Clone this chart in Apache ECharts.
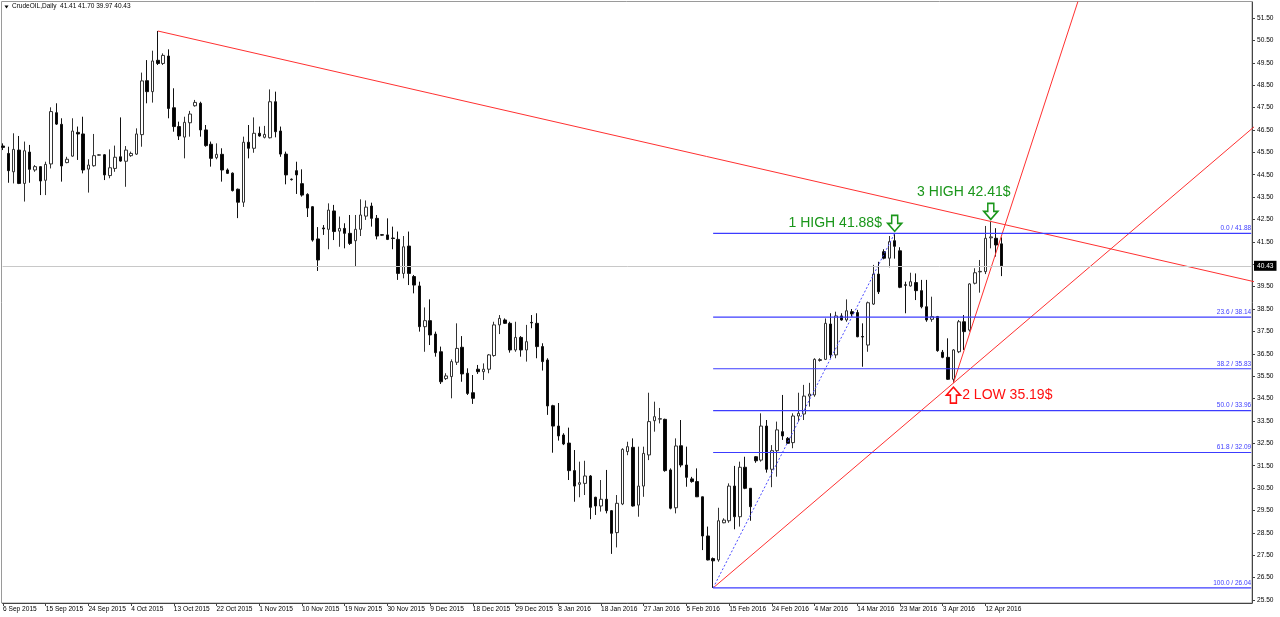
<!DOCTYPE html>
<html><head><meta charset="utf-8">
<script src="https://cdn.jsdelivr.net/npm/echarts@6/dist/echarts.min.js"></script>
<style>html,body{margin:0;padding:0;background:#fff}#c{width:1280px;height:617px}</style>
</head><body><div id="c"></div>
<script>
const dates = ['6 Sep 2015','7 Sep 2015','8 Sep 2015','9 Sep 2015','10 Sep 2015','11 Sep 2015','13 Sep 2015','14 Sep 2015','15 Sep 2015','16 Sep 2015','17 Sep 2015','18 Sep 2015','20 Sep 2015','21 Sep 2015','22 Sep 2015','23 Sep 2015','24 Sep 2015','25 Sep 2015','27 Sep 2015','28 Sep 2015','29 Sep 2015','30 Sep 2015',
'1 Oct 2015','2 Oct 2015','4 Oct 2015','5 Oct 2015','6 Oct 2015','7 Oct 2015','8 Oct 2015','9 Oct 2015','11 Oct 2015','12 Oct 2015','13 Oct 2015','14 Oct 2015','15 Oct 2015','16 Oct 2015','18 Oct 2015','19 Oct 2015','20 Oct 2015','21 Oct 2015','22 Oct 2015','23 Oct 2015','25 Oct 2015','26 Oct 2015','27 Oct 2015','28 Oct 2015','29 Oct 2015','30 Oct 2015',
'1 Nov 2015','2 Nov 2015','3 Nov 2015','4 Nov 2015','5 Nov 2015','6 Nov 2015','8 Nov 2015','9 Nov 2015','10 Nov 2015','11 Nov 2015','12 Nov 2015','13 Nov 2015','15 Nov 2015','16 Nov 2015','17 Nov 2015','18 Nov 2015','19 Nov 2015','20 Nov 2015','22 Nov 2015','23 Nov 2015','24 Nov 2015','25 Nov 2015','27 Nov 2015','29 Nov 2015','30 Nov 2015',
'1 Dec 2015','2 Dec 2015','3 Dec 2015','4 Dec 2015','6 Dec 2015','7 Dec 2015','8 Dec 2015','9 Dec 2015','10 Dec 2015','11 Dec 2015','13 Dec 2015','14 Dec 2015','15 Dec 2015','16 Dec 2015','17 Dec 2015','18 Dec 2015','20 Dec 2015','21 Dec 2015','22 Dec 2015','23 Dec 2015','24 Dec 2015','27 Dec 2015','28 Dec 2015','29 Dec 2015','30 Dec 2015','31 Dec 2015',
'3 Jan 2016','4 Jan 2016','5 Jan 2016','6 Jan 2016','7 Jan 2016','8 Jan 2016','10 Jan 2016','11 Jan 2016','12 Jan 2016','13 Jan 2016','14 Jan 2016','15 Jan 2016','17 Jan 2016','18 Jan 2016','19 Jan 2016','20 Jan 2016','21 Jan 2016','22 Jan 2016','24 Jan 2016','25 Jan 2016','26 Jan 2016','27 Jan 2016','28 Jan 2016','29 Jan 2016','31 Jan 2016',
'1 Feb 2016','2 Feb 2016','3 Feb 2016','4 Feb 2016','5 Feb 2016','7 Feb 2016','8 Feb 2016','9 Feb 2016','10 Feb 2016','11 Feb 2016','12 Feb 2016','14 Feb 2016','15 Feb 2016','16 Feb 2016','17 Feb 2016','18 Feb 2016','19 Feb 2016','21 Feb 2016','22 Feb 2016','23 Feb 2016','24 Feb 2016','25 Feb 2016','26 Feb 2016','28 Feb 2016','29 Feb 2016',
'1 Mar 2016','2 Mar 2016','3 Mar 2016','4 Mar 2016','6 Mar 2016','7 Mar 2016','8 Mar 2016','9 Mar 2016','10 Mar 2016','11 Mar 2016','13 Mar 2016','14 Mar 2016','15 Mar 2016','16 Mar 2016','17 Mar 2016','18 Mar 2016','20 Mar 2016','21 Mar 2016','22 Mar 2016','23 Mar 2016','24 Mar 2016','27 Mar 2016','28 Mar 2016','29 Mar 2016','30 Mar 2016','31 Mar 2016',
'1 Apr 2016','3 Apr 2016','4 Apr 2016','5 Apr 2016','6 Apr 2016','7 Apr 2016','8 Apr 2016','10 Apr 2016','11 Apr 2016','12 Apr 2016','13 Apr 2016','14 Apr 2016','15 Apr 2016'];

const tickDates = ['6 Sep 2015','15 Sep 2015','24 Sep 2015','4 Oct 2015','13 Oct 2015','22 Oct 2015','1 Nov 2015','10 Nov 2015','19 Nov 2015','30 Nov 2015','9 Dec 2015','18 Dec 2015','29 Dec 2015','8 Jan 2016','18 Jan 2016','27 Jan 2016','5 Feb 2016','15 Feb 2016','24 Feb 2016','4 Mar 2016','14 Mar 2016','23 Mar 2016','3 Apr 2016','12 Apr 2016'];

const open = [45.78,45.45,44.63,45.60,44.11,45.51,44.71,44.86,44.25,44.98,
47.27,46.75,45.04,45.33,46.39,46.32,44.75,44.90,45.37,45.39,
44.46,44.78,45.30,45.10,45.35,45.42,46.29,48.70,48.21,49.61,
49.47,49.80,47.49,46.65,46.18,46.82,47.58,47.69,46.50,45.86,
45.26,45.41,44.71,44.57,43.85,43.27,45.95,45.68,46.35,46.17,
46.15,47.76,46.45,45.42,44.30,44.68,44.10,43.62,43.07,41.63,
42.12,42.06,42.88,41.98,42.10,41.88,41.55,42.06,42.65,43.10,
42.55,41.82,41.81,41.67,41.61,40.09,41.31,39.95,39.53,37.71,
37.98,37.38,36.59,35.39,35.48,36.12,36.79,35.63,34.76,35.81,
35.70,35.81,36.42,37.79,38.01,37.86,36.67,37.23,36.67,37.90,
37.86,36.82,36.22,34.18,33.27,32.87,32.51,31.28,30.67,30.71,
31.04,30.09,29.70,30.00,29.49,28.51,29.79,32.13,32.32,29.74,
30.59,31.98,33.51,33.58,33.57,31.31,29.62,32.39,31.53,30.91,
30.79,30.11,28.36,27.35,27.29,28.95,29.04,30.59,29.22,31.43,
30.49,31.90,31.75,33.27,31.34,32.17,33.02,32.72,32.53,33.72,
33.81,34.61,34.66,36.20,36.25,37.83,36.45,38.19,38.01,38.38,
38.34,37.27,36.89,38.72,40.06,41.06,40.77,41.55,41.10,39.58,
39.53,39.68,39.32,38.60,38.04,38.16,36.57,36.34,35.36,36.59,
37.93,37.56,39.65,40.16,40.17,41.68,41.66,41.41];

const high = [45.90,45.75,46.35,46.23,45.98,45.83,44.93,44.88,45.08,47.51,
47.69,47.02,45.30,47.02,46.65,47.09,45.19,46.32,45.42,45.42,
45.63,45.80,47.06,45.78,45.53,46.57,49.06,49.62,50.04,50.92,
49.92,50.10,48.36,46.87,47.09,47.35,47.84,47.76,46.72,45.98,
45.90,45.68,44.78,44.60,43.88,46.20,46.72,47.06,46.65,46.68,
48.31,48.21,46.65,45.53,44.33,45.08,44.74,43.67,43.10,42.16,
42.25,43.22,43.15,42.63,42.33,42.70,42.70,43.40,43.35,43.25,
42.70,41.84,42.55,42.18,41.96,41.76,41.96,40.02,39.72,38.57,
38.93,37.49,36.82,35.63,36.25,37.86,37.29,35.85,35.55,36.00,
36.07,36.49,37.93,38.23,38.08,37.93,37.93,37.29,37.79,38.23,
38.31,36.97,36.30,34.22,34.30,32.95,33.20,32.20,31.68,31.72,
31.08,30.11,30.86,31.31,29.52,30.19,32.28,32.57,32.72,32.35,
32.35,34.76,34.36,34.08,33.60,31.38,32.72,33.54,32.35,31.00,
31.38,30.12,28.78,27.40,29.62,29.15,30.71,31.49,31.68,31.90,
30.50,31.93,33.84,33.54,32.42,33.47,34.66,32.78,33.84,34.76,
35.11,35.20,36.30,36.30,38.08,38.31,38.38,38.31,38.93,38.50,
38.46,37.86,38.83,40.47,40.61,41.17,41.76,41.88,41.26,39.72,
40.12,40.09,39.80,39.80,39.05,38.19,36.67,37.19,36.71,38.01,
38.23,39.65,40.32,40.69,42.21,42.41,42.11,41.70];

const low = [45.60,44.14,44.11,44.08,43.30,44.14,44.63,43.59,43.59,44.78,
46.72,44.19,45.01,45.30,45.16,44.56,43.70,44.86,45.35,44.26,
44.34,44.63,45.08,43.96,45.30,45.38,45.75,47.69,47.72,49.40,
49.40,47.02,46.42,46.05,45.23,46.20,47.54,46.20,45.75,44.86,
45.19,44.19,44.53,43.75,42.56,43.06,45.23,45.48,46.20,46.12,
46.12,46.17,45.30,44.07,44.24,43.64,43.52,42.61,41.51,40.20,
41.81,41.17,41.58,41.28,41.21,41.36,40.39,41.76,42.48,42.18,
41.61,41.78,41.58,41.17,39.80,39.87,39.57,39.20,37.49,36.59,
36.89,36.37,35.15,35.33,34.51,36.00,35.25,34.66,34.26,35.60,
35.33,35.63,36.37,37.38,37.83,36.55,36.59,36.37,36.15,37.64,
36.30,35.75,33.77,32.08,32.62,32.42,30.86,29.89,30.09,30.19,
29.11,29.30,29.45,29.37,27.56,27.85,29.74,31.97,29.67,29.22,
30.11,31.75,33.02,33.39,31.23,29.55,29.37,31.43,30.56,30.74,
30.10,27.73,27.27,26.04,27.21,28.93,28.95,28.66,28.78,30.45,
29.04,31.63,31.68,31.19,30.54,31.01,32.65,32.47,32.28,33.47,
33.54,34.14,34.58,36.15,36.22,36.30,36.30,37.98,37.93,38.16,
37.24,35.92,36.59,38.68,39.17,40.72,40.36,40.75,39.43,38.31,
39.50,38.90,38.53,37.93,37.93,36.59,36.30,35.33,35.19,36.53,
36.67,37.49,39.60,39.23,40.06,41.21,40.84,39.97];

const close = [45.72,44.68,45.63,44.11,45.57,44.74,44.86,44.22,44.96,47.32,
46.76,44.89,45.19,46.45,46.32,44.71,44.93,45.35,45.39,44.49,
44.81,45.28,45.11,45.60,45.45,46.32,48.69,48.21,49.58,49.47,
49.83,47.46,46.65,46.23,46.84,47.21,47.73,46.50,45.80,45.23,
45.41,44.71,44.56,43.79,43.27,45.95,45.68,46.35,46.23,46.30,
47.76,46.42,45.42,44.49,44.28,44.49,43.59,43.01,41.58,40.69,
42.08,42.92,41.96,42.10,41.88,41.43,42.06,42.70,43.05,42.55,
41.76,41.80,41.61,41.65,40.09,41.28,40.09,39.57,37.71,37.98,
37.34,36.55,35.25,35.51,36.15,36.74,35.60,34.73,34.51,35.70,
35.81,36.45,37.79,38.08,37.86,36.67,37.23,36.67,37.04,37.88,
36.82,36.15,34.17,33.27,32.83,32.47,31.28,30.59,30.74,31.04,
29.64,29.70,30.00,29.49,28.48,29.82,32.23,32.35,29.70,30.59,
32.05,33.47,33.69,33.60,31.28,29.60,32.38,31.53,30.98,30.79,
30.11,28.36,27.29,27.25,29.04,29.07,30.59,29.22,31.43,30.49,
29.67,31.72,33.27,31.34,32.17,33.10,32.83,32.50,33.72,33.84,
34.61,34.70,36.25,36.24,37.86,36.45,38.19,38.01,38.42,38.28,
37.26,37.25,38.78,40.06,39.27,40.77,41.51,41.30,39.47,39.56,
39.72,39.32,38.60,38.01,38.16,36.64,36.34,35.36,36.67,37.93,
37.49,39.62,40.12,40.18,41.66,41.72,41.36,40.43];

// price axis ticks (x.50); the label under the current-price tag is hidden
const priceTicks = [25.5,26.5,27.5,28.5,29.5,30.5,31.5,32.5,33.5,34.5,35.5,36.5,37.5,38.5,39.5,40.5,41.5,42.5,43.5,44.5,45.5,46.5,47.5,48.5,49.5,50.5,51.5];
const priceLabels = [25.5,26.5,27.5,28.5,29.5,30.5,31.5,32.5,33.5,34.5,35.5,36.5,37.5,38.5,39.5,41.5,42.5,43.5,44.5,45.5,46.5,47.5,48.5,49.5,50.5,51.5];

// Fibonacci retracement from the Feb low to the March high
const fibRatios = [0.0, 23.6, 38.2, 50.0, 61.8, 100.0];
const fibLevels = [41.88, 38.14, 35.83, 33.96, 32.09, 26.04];
const fibAnchorIdx = [133, 167];
const fibAnchorPrice = [26.04, 41.88];

// Trend lines: start point and a second point they pass through (bar index, price)
const trendStart = [[29, 50.92], [133, 26.04], [178, 35.19]];
const trendThrough = [[185, 42.41], [178, 35.19], [187, 41.77]];

// Annotations
const noteNames = ['1 HIGH', '2 LOW', '3 HIGH'];
const noteIdx = [167, 178, 185];
const notePrice = [41.88, 35.19, 42.41];

const symbolName = 'CrudeOIL,Daily';

const X_MIN = -0.075, X_MAX = 233.92;
const last = close.length - 1;
const FONT = 'Liberation Sans';

const candleData = open.map((o, i) => [i, o, close[i], low[i], high[i]]);
const tickIdx = tickDates.map(d => dates.indexOf(d));

const trendSeries = trendStart.map((s, k) => {
  const t = trendThrough[k];
  const slope = (t[1] - s[1]) / (t[0] - s[0]);
  const xe = 250;
  return {
    type: 'line', xAxisIndex: 0, yAxisIndex: 0, symbol: 'none', clip: true, silent: true,
    data: [[s[0], s[1]], [xe, s[1] + slope * (xe - s[0])]],
    lineStyle: { color: '#ff3030', width: 1 }, z: 4, animation: false
  };
});

const fibBlue = '#3c3cff';
const fibSeries = fibLevels.map((lv, k) => ({
  type: 'line', xAxisIndex: 0, yAxisIndex: 0, silent: true, clip: false, animation: false, z: 4,
  symbol: 'circle', symbolSize: 1, showSymbol: true,
  itemStyle: { color: 'rgba(0,0,0,0)' },
  lineStyle: { color: fibBlue, width: 1.2, type: 'solid' },
  label: { show: false },
  data: [
    { value: [fibAnchorIdx[0], lv] },
    { value: [X_MAX - 0.15, lv], label: { show: true, position: 'top', align: 'right', distance: 1, fontSize: 6.5, fontFamily: FONT, color: fibBlue, formatter: fibRatios[k].toFixed(1) + ' / ' + lv.toFixed(2) } }
  ]
}));

const downArrow = 'path://M4,0L10,0L10,8L14,8L7,16L0,8L4,8Z';
const upArrow = 'path://M7,0L14,8L10,8L10,16L4,16L4,8L0,8Z';
const green = '#1a961a', red = '#ff1010';

const noteData = noteNames.map((n, k) => {
  const isLow = n.indexOf('LOW') >= 0;
  const txt = n + ' ' + notePrice[k].toFixed(2) + '$';
  const base = {
    value: [noteIdx[k], notePrice[k]],
    symbol: isLow ? upArrow : downArrow,
    symbolSize: [14, 16],
    symbolOffset: isLow ? [0, 12] : [0, -10],
    itemStyle: { color: '#fff', borderColor: isLow ? red : green, borderWidth: 1.6, opacity: 1 },
    label: { show: true, formatter: txt, color: isLow ? red : green, fontSize: 14, fontFamily: FONT }
  };
  if (isLow) { base.label.position = 'right'; base.label.distance = 1; }
  else if (k === 0) { base.label.position = 'left'; base.label.distance = 5; }
  else { base.label.position = 'top'; base.label.distance = 3; base.label.offset = [-27, 0]; }
  return base;
});

const chart = echarts.init(document.getElementById('c'), null, { renderer: 'canvas' });
chart.setOption({
  animation: false,
  backgroundColor: '#fff',
  title: {
    text: symbolName + '  ' + [open[last], high[last], low[last], close[last]].map(v => v.toFixed(2)).join(' '),
    left: 12, top: 3, padding: 0,
    textStyle: { fontSize: 6.5, fontWeight: 'normal', fontFamily: FONT, color: '#000' }
  },
  graphic: [
    { type: 'rect', shape: { x: 1.5, y: 1.5, width: 1250.5, height: 601.5 }, style: { fill: 'none', stroke: '#9a9a9a', lineWidth: 1 }, silent: true, z: -1 },
    { type: 'polygon', shape: { points: [[4.5, 5.5], [8.5, 5.5], [6.5, 8.5]] }, style: { fill: '#000' }, silent: true }
  ],
  grid: { left: 2, right: 28, top: 2, bottom: 14, containLabel: false },
  xAxis: {
    type: 'value', min: X_MIN, max: X_MAX,
    axisLine: { show: true, lineStyle: { color: '#444', width: 1 } },
    axisTick: { show: true, customValues: tickIdx, length: 3, lineStyle: { color: '#444' } },
    axisLabel: { customValues: tickIdx, formatter: v => dates[Math.round(v)] || '', align: 'left', fontSize: 6.6, fontFamily: FONT, color: '#000', margin: 3 },
    splitLine: { show: false }
  },
  yAxis: {
    type: 'value', position: 'right', min: 25.366, max: 52.215,
    axisLine: { show: true, onZero: false, lineStyle: { color: '#444', width: 1 } },
    axisTick: { show: true, customValues: priceTicks, length: 3, lineStyle: { color: '#444' } },
    axisLabel: { customValues: priceLabels, formatter: v => v.toFixed(2), fontSize: 6.6, fontFamily: FONT, color: '#000', margin: 5 },
    splitLine: { show: false }
  },
  series: [
    {
      type: 'candlestick', xAxisIndex: 0, yAxisIndex: 0, data: candleData, barWidth: 3,
      itemStyle: { color: '#fff', color0: '#000', borderColor: '#333', borderColor0: '#111', borderWidth: 1 },
      z: 3,
      markLine: {
        symbol: 'none', silent: true, animation: false,
        data: [{
          yAxis: close[last],
          lineStyle: { color: '#c8c8c8', width: 1, type: 'solid' },
          label: { show: true, position: 'end', formatter: close[last].toFixed(2), backgroundColor: '#000', color: '#fff', padding: [2, 3, 1, 3], fontSize: 6.6, fontFamily: FONT, distance: 2 }
        }]
      }
    },
    ...trendSeries,
    ...fibSeries,
    {
      type: 'line', xAxisIndex: 0, yAxisIndex: 0, symbol: 'none', silent: true, animation: false,
      data: fibAnchorIdx.map((x, k) => [x, fibAnchorPrice[k]]),
      lineStyle: { color: '#4a4aff', width: 1, type: [2, 2] }, z: 4
    },
    {
      type: 'scatter', xAxisIndex: 0, yAxisIndex: 0, silent: true, z: 6,
      itemStyle: { opacity: 1 },
      data: noteData
    }
  ]
});
</script>
</body></html>
